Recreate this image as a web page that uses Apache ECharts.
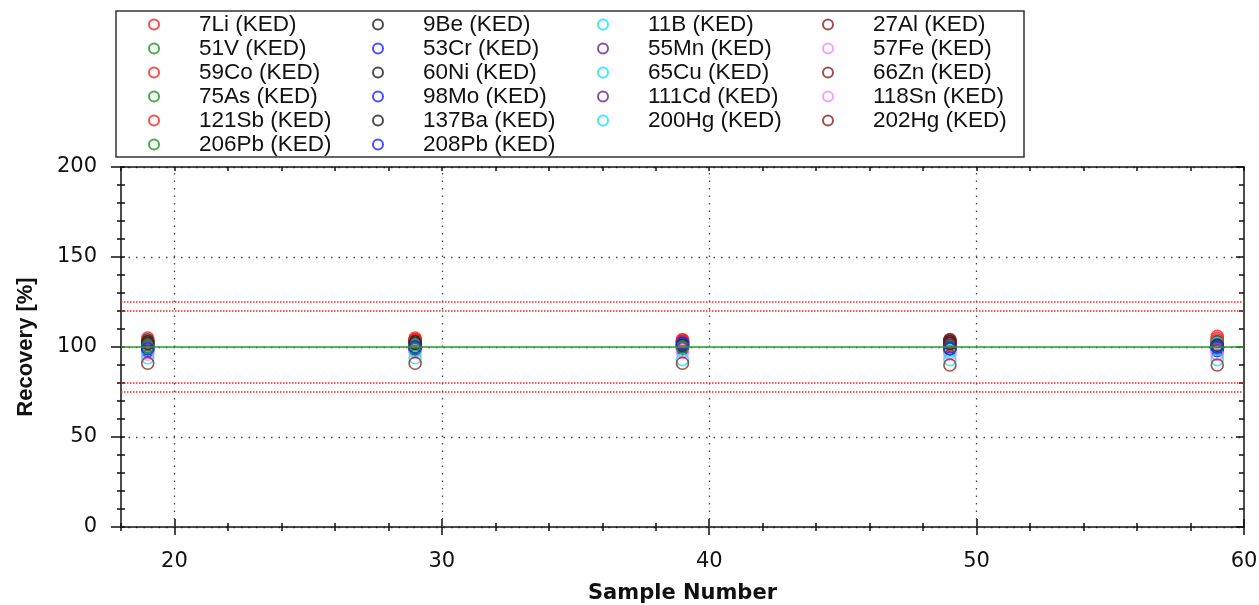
<!DOCTYPE html>
<html>
<head>
<meta charset="utf-8">
<script src="https://cdn.jsdelivr.net/npm/echarts@6/dist/echarts.min.js"></script>
<style>
  html, body { margin: 0; padding: 0; background: #fff; }
  #chart { width: 1259px; height: 605px; }
</style>
</head>
<body>
<div id="chart"></div>
<script>
// sample numbers on the x axis
const samples = [19, 29, 39, 49, 59];

// element names, legend order (row by row)
const elements = [
  '7Li (KED)', '9Be (KED)', '11B (KED)', '27Al (KED)',
  '51V (KED)', '53Cr (KED)', '55Mn (KED)', '57Fe (KED)',
  '59Co (KED)', '60Ni (KED)', '65Cu (KED)', '66Zn (KED)',
  '75As (KED)', '98Mo (KED)', '111Cd (KED)', '118Sn (KED)',
  '121Sb (KED)', '137Ba (KED)', '200Hg (KED)', '202Hg (KED)',
  '206Pb (KED)', '208Pb (KED)'
];

// recovery [%] per element at each sample
const li7   = [103, 105, 104, 103, 106];
const be9   = [104, 104, 103, 104, 103];
const b11   = [100, 101, 102, 99, 104];
const al27  = [102, 103, 101, 104, 102];
const v51   = [100, 102, 100, 101, 100];
const cr53  = [101, 99, 103, 100, 99];
const mn55  = [99, 100, 101, 102, 101];
const fe57  = [97, 98, 98, 97, 96];
const co59  = [102, 104, 104, 103, 105];
const ni60  = [103, 103, 102, 103, 102];
const cu65  = [99, 98, 99, 98, 102];
const zn66  = [101, 100, 100, 101, 100];
const as75  = [101, 101, 101, 100, 101];
const mo98  = [98, 99, 100, 99, 98];
const cd111 = [100, 100, 99, 100, 100];
const sn118 = [96, 97, 97, 96, 96];
const sb121 = [105, 104, 103, 102, 104];
const ba137 = [102, 102, 101, 102, 101];
const hg200 = [94, 94, 93, 93, 93];
const hg202 = [91, 91, 91, 90, 90];
const pb206 = [100, 99, 100, 99, 100];
const pb208 = [99, 100, 102, 99, 100];

const recovery = [li7, be9, b11, al27, v51, cr53, mn55, fe57, co59, ni60, cu65,
  zn66, as75, mo98, cd111, sn118, sb121, ba137, hg200, hg202, pb206, pb208];

// control limits and target
const limitLines = [75, 80, 120, 125];
const targetLine = 100;
const gridX = [20, 30, 40, 50];
const xLabels = [20, 30, 40, 50, 60];

// marker colours cycle every 8 elements
const palette = ['#ff2020', '#222222', '#14e4f0', '#8e2020', '#1a961f', '#2020ff', '#6a2399', '#f28af2'];

const FONT = '"Liberation Sans", Arial, sans-serif';
const WIDE = '"DejaVu Sans", Verdana, sans-serif';

const chart = echarts.init(document.getElementById('chart'));

// legend: 4 columns, each a vertical legend (legend padding is 5px)
const colLeft = [143, 367, 592, 817];
const legends = colLeft.map((left, c) => ({
  orient: 'vertical',
  left: left,
  top: 8,
  itemWidth: 10,
  itemHeight: 10,
  itemGap: 1,
  selectedMode: false,
  data: elements.filter((e, i) => i % 4 === c),
  formatter: name => '{t|' + name + '}',
  textStyle: {
    rich: {
      t: { fontFamily: FONT, fontSize: 22.5, color: '#111', lineHeight: 20, padding: [0, 0, 0, 35] }
    }
  }
}));

const tickLine = { color: '#111', width: 1.5 };

const baseX = { type: 'value', min: 18, max: 60, gridIndex: 0, splitLine: { show: false } };
const xAxes = [
  // main bottom axis: line, minor outward ticks, labels, name
  Object.assign({}, baseX, {
    position: 'bottom', interval: 2,
    axisLine: { show: true, lineStyle: { color: '#111', width: 1.5 } },
    axisTick: { show: true, length: 4, lineStyle: tickLine },
    axisLabel: { customValues: xLabels, fontFamily: WIDE, fontSize: 21, color: '#111', margin: 24 },
    name: 'Sample Number', nameLocation: 'middle', nameGap: 56,
    nameTextStyle: { fontFamily: WIDE, fontSize: 21, fontWeight: 'bold', color: '#111' }
  }),
  // inward minor ticks
  Object.assign({}, baseX, {
    position: 'bottom', interval: 2,
    axisLine: { show: false },
    axisTick: { show: true, inside: true, length: 4, lineStyle: tickLine },
    axisLabel: { show: false }
  }),
  // major ticks both sides
  Object.assign({}, baseX, {
    position: 'bottom',
    axisLine: { show: false },
    axisTick: { show: true, customValues: xLabels, length: 8, lineStyle: tickLine },
    axisLabel: { show: false }
  }),
  Object.assign({}, baseX, {
    position: 'bottom',
    axisLine: { show: false },
    axisTick: { show: true, inside: true, customValues: xLabels, length: 8, lineStyle: tickLine },
    axisLabel: { show: false }
  }),
  // top frame
  Object.assign({}, baseX, {
    position: 'top', interval: 2,
    axisLine: { show: true, lineStyle: { color: '#111', width: 1.5 } },
    axisTick: { show: true, inside: true, length: 4, lineStyle: tickLine },
    axisLabel: { show: false }
  })
];

const baseY = { type: 'value', min: 0, max: 200, interval: 50, gridIndex: 0 };
const yAxes = [
  {
    ...baseY, position: 'left',
    axisLine: { show: true, lineStyle: { color: '#111', width: 1.5 } },
    axisTick: { show: true, length: 10, lineStyle: tickLine },
    minorTick: { show: true, splitNumber: 5, length: 4, lineStyle: tickLine },
    axisLabel: { fontFamily: WIDE, fontSize: 21, color: '#111', margin: 24 },
    splitLine: { show: true, lineStyle: { color: '#444', width: 1.3, type: [1.5, 6] } },
    name: 'Recovery [%]', nameLocation: 'middle', nameGap: 84, nameRotate: 90,
    nameTextStyle: { fontFamily: FONT, fontSize: 22, fontWeight: 'bold', color: '#111' }
  },
  {
    ...baseY, position: 'left',
    axisLine: { show: false },
    axisTick: { show: true, inside: true, length: 4, lineStyle: tickLine },
    minorTick: { show: true, splitNumber: 5, length: 4, lineStyle: tickLine },
    axisLabel: { show: false }, splitLine: { show: false }
  },
  {
    ...baseY, position: 'right',
    axisLine: { show: true, lineStyle: { color: '#111', width: 1.5 } },
    axisTick: { show: true, inside: true, length: 8, lineStyle: tickLine },
    minorTick: { show: true, splitNumber: 5, length: 5, lineStyle: tickLine },
    axisLabel: { show: false }, splitLine: { show: false }
  }
];

// reference lines: vertical grid, limits, target
const refSeries = {
  name: 'ref', type: 'scatter', data: [], silent: true,
  markLine: {
    silent: true, symbol: 'none', label: { show: false }, animation: false,
    data: [
      ...gridX.map(v => ({ xAxis: v, lineStyle: { color: '#444', width: 1.3, type: [1.5, 6] } })),
      ...limitLines.map(v => ({ yAxis: v, lineStyle: { color: '#ff2020', width: 1.5, type: [1.5, 1.5] } })),
      { yAxis: targetLine, lineStyle: { color: '#2d9d2d', width: 1.6, type: 'solid' } }
    ]
  }
};

const pointSeries = elements.map((name, i) => ({
  name: name,
  type: 'scatter',
  symbol: 'circle',
  symbolSize: 12,
  itemStyle: { color: 'transparent', borderColor: palette[i % 8], borderWidth: 1.6 },
  data: samples.map((s, k) => [s, recovery[i][k]])
}));

chart.setOption({
  animation: false,
  grid: { left: 121, right: 15, top: 167, bottom: 78, containLabel: false, outerBoundsMode: 'none' },
  legend: legends,
  xAxis: xAxes,
  yAxis: yAxes,
  graphic: [{
    type: 'rect', shape: { x: 116, y: 11, width: 908, height: 146 },
    style: { fill: 'none', stroke: '#333', lineWidth: 1.5 }, silent: true
  }],
  series: [refSeries, ...pointSeries]
});
</script>
</body>
</html>
